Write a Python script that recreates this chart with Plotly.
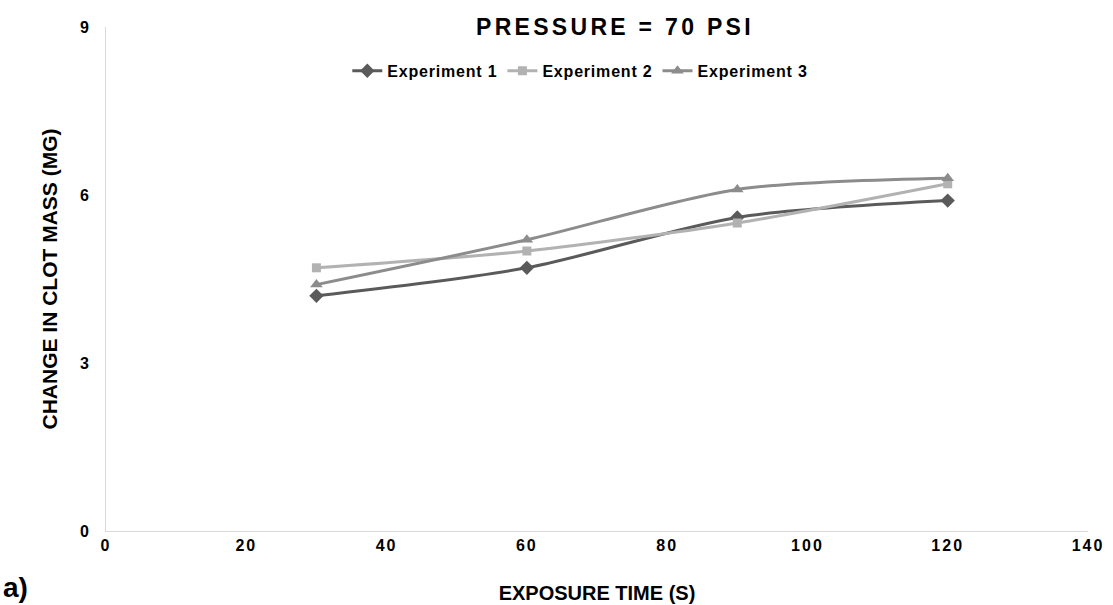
import plotly.graph_objects as go

exposure_time = [30, 60, 90, 120]
exp1 = [4.2, 4.7, 5.6, 5.9]
exp2 = [4.7, 5.0, 5.5, 6.2]
exp3 = [4.4, 5.2, 6.1, 6.3]
series_names = ["Experiment 1", "Experiment 2", "Experiment 3"]
x_ticks = [0, 20, 40, 60, 80, 100, 120, 140]
y_ticks = [0, 3, 6, 9]

FONT = "Liberation Sans, Arial, sans-serif"
SP = "<span style='letter-spacing:{}px'>{}</span>"
styles = [
    dict(color="#5a5a5a", symbol="diamond", size=11),
    dict(color="#b2b2b2", symbol="square", size=9),
    dict(color="#8c8c8c", symbol="triangle-up", size=11),
]

fig = go.Figure()
for name, ys, st in zip(series_names, [exp1, exp2, exp3], styles):
    fig.add_trace(go.Scatter(
        x=exposure_time, y=ys, name=SP.format(0.8, name), mode="lines+markers",
        line=dict(color=st["color"], width=3, shape="spline", smoothing=0.8),
        marker=dict(color=st["color"], symbol=st["symbol"], size=st["size"]),
    ))

bold = dict(family=FONT, color="#000", weight="bold")
fig.update_layout(
    width=1113, height=605,
    margin=dict(l=106, r=25, t=27, b=74),
    plot_bgcolor="white", paper_bgcolor="white",
    font=dict(family=FONT, color="#000000"),
    showlegend=True,
    legend=dict(orientation="h", x=0.483, xanchor="center", y=0.913, yanchor="middle",
                font=dict(size=16, **bold),
                itemwidth=30, tracegroupgap=0, bgcolor="rgba(0,0,0,0)"),
    xaxis=dict(range=[0, 140], tickvals=x_ticks,
               ticktext=[SP.format(2, v) for v in x_ticks],
               showgrid=False, zeroline=False, automargin=False,
               showline=True, linecolor="#d9d9d9", linewidth=1, ticks="",
               tickfont=dict(size=16, **bold),
               title=dict(text="EXPOSURE TIME (S)", font=dict(size=20, **bold), standoff=32)),
    yaxis=dict(range=[0, 9], tickvals=y_ticks,
               ticktext=[SP.format(1, v) for v in y_ticks],
               showgrid=False, zeroline=False, automargin=False,
               showline=True, linecolor="#d9d9d9", linewidth=1, ticks="",
               ticklabelstandoff=12,
               tickfont=dict(size=16, **bold),
               title=dict(text="CHANGE IN CLOT MASS (MG)", font=dict(size=21, **bold), standoff=16)),
)

fig.add_annotation(text="<b><span style='letter-spacing:3.3px'>PRESSURE = 70 PSI</span></b>",
                   xref="paper", yref="paper", x=0.518, y=1.0, yanchor="middle",
                   showarrow=False, font=dict(size=23, family=FONT, color="#000"))
fig.add_annotation(text="<b>a)</b>", xref="paper", yref="paper", x=-0.107, y=-0.112,
                   xanchor="left", yanchor="middle", showarrow=False,
                   font=dict(size=28, family=FONT, color="#000"))

fig.write_html("out.html")
